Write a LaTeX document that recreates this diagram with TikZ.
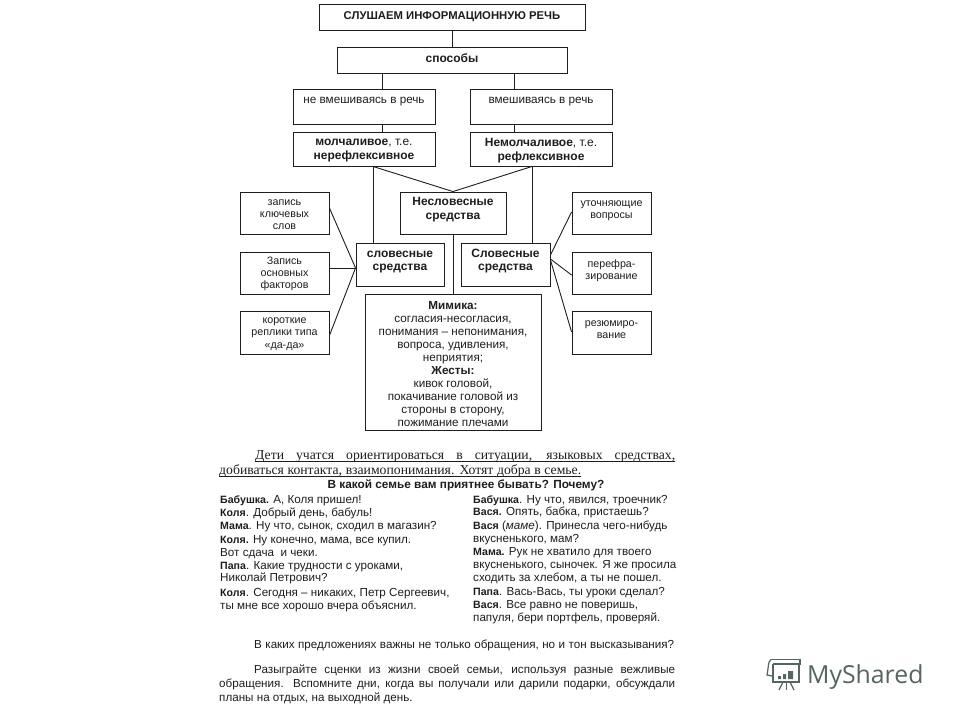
\documentclass[tikz,border=0pt]{standalone}
\usepackage{fontspec}
\setmainfont{Liberation Sans}
\newfontfamily\timesf{Liberation Serif}
\newfontfamily\logof{Open Sans}
\usetikzlibrary{calc}
\tikzset{
  bx/.style={draw=ink,line width=0.9pt,fill=white,inner sep=0pt},
  bxt/.style={inner sep=0pt,align=center,text=ink,font=\fontsize{11.7}{13.1}\selectfont},
  big/.style={font=\fontsize{12}{13.3}\selectfont},
  sm/.style={font=\fontsize{10.7}{12.3}\selectfont},
  link/.style={draw=ink,line width=0.9pt},
  ln/.style={anchor=base west,inner sep=0pt,text=ink,font=\fontsize{11.65}{14}\selectfont},
  ulin/.style={draw=ink,line width=0.7pt},
  pser/.style={ln,font=\timesf\fontsize{13.7}{15}\selectfont},
}
\definecolor{ink}{HTML}{1E1E1E}
\definecolor{logoc}{HTML}{55655F}
% [text style]{x1}{y1}{x2}{y2}{name}{text dy}{text}
\newcommand{\bxn}[8][]{\node[bx,minimum width=#4pt-#2pt,minimum height=#5pt-#3pt] (#6) at ({(#2+#4)/2},{(#3+#5)/2}) {};
  \node[bxt,#1] (#6t) at ($(#6.center)+(0,#7)$) {#8};}
\newcommand{\tl}[4]{\node[ln] (#1) at (#2,#3) {#4};}
\newcommand{\spk}[1]{{\fontsize{10.6}{14}\selectfont\bfseries #1}}
\begin{document}
\begin{tikzpicture}[x=1pt,y=-1pt]
\useasboundingbox (0,0) rectangle (960,720);
\fill[white] (0,0) rectangle (960,720);
% boxes
\bxn[font=\bfseries\fontsize{11.3}{13}\selectfont]{319}{4}{585}{30}{title}{-0.5}{СЛУШАЕМ ИНФОРМАЦИОННУЮ РЕЧЬ}
\bxn[big]{337}{47}{567}{73}{way}{-2}{\textbf{способы}}
\bxn{293}{89}{435}{124}{ne}{-4.5}{не вмешиваясь в речь}
\bxn{470}{89}{612}{124}{vm}{-4.5}{вмешиваясь в речь}
\bxn[big]{293}{132}{435}{166}{mol}{1.5}{\textbf{молчаливое}, т.е.\\\textbf{нерефлексивное}}
\bxn[big]{470}{132}{612}{166}{nem}{1.5}{\textbf{Немолчаливое}, т.е.\\\textbf{рефлексивное}}
\bxn[big]{400}{192}{506}{234}{nes}{-3.3}{\textbf{Несловесные}\\\textbf{средства}}
\bxn[big]{356}{243}{444}{286}{sl}{-2.5}{\textbf{словесные}\\\textbf{средства}}
\bxn[big]{461}{243}{550}{286}{Sl}{-3.5}{\textbf{Словесные}\\\textbf{средства}}
\bxn{365}{294}{541}{430}{mim}{2}{\textbf{Мимика:}\\согласия-несогласия,\\понимания – непонимания,\\вопроса, удивления,\\неприятия;\\\textbf{Жесты:}\\кивок головой,\\покачивание головой из\\стороны в сторону,\\пожимание плечами}
\bxn[sm]{240}{192}{329}{234}{l1}{1.5}{запись\\ключевых\\слов}
\bxn[sm]{240}{252}{329}{294}{l2}{1}{Запись\\основных\\факторов}
\bxn[sm]{240}{311}{329}{354}{l3}{1.5}{короткие\\реплики типа\\«да-да»}
\bxn[sm]{572}{192}{651}{234}{r1}{-2.5}{уточняющие\\вопросы}
\bxn[sm]{572}{252}{651}{294}{r2}{-2.5}{перефра-\\зирование}
\bxn[sm]{572}{311}{651}{354}{r3}{-3}{резюмиро-\\вание}
% connectors
\coordinate (xa) at (382,0);
\coordinate (xb) at (514,0);
\coordinate (xc) at (373,0);
\coordinate (xd) at (532,0);
\draw[link] (title.south) -- (way.north);
\draw[link] (xa |- way.south) -- (xa |- ne.north);
\draw[link] (xb |- way.south) -- (xb |- vm.north);
\draw[link] (xa |- ne.south) -- (xa |- mol.north);
\draw[link] (xb |- vm.south) -- (xb |- nem.north);
\draw[link] (xc |- mol.south) -- (nes.north);
\draw[link] (xd |- nem.south) -- (nes.north);
\draw[link] (xc |- mol.south) -- (xc |- sl.north);
\draw[link] (xd |- nem.south) -- (xd |- Sl.north);
\draw[link] (nes.south) -- (mim.north);
\coordinate (sc) at ($(sl.west)+(0,3.5)$);
\draw[link] ($(l1.east)+(0,-5)$) -- (sc);
\draw[link] (l2.east |- sc) -- (sc);
\draw[link] ($(l3.east)+(0,3)$) -- (sc);
\draw[link] ($(Sl.east)+(0,-9.5)$) -- ($(r1.west)+(0,-1)$);
\draw[link] ($(Sl.east)+(0,-5.5)$) -- ($(r2.west)+(0,2)$);
\draw[link] ($(Sl.east)+(0,-4.5)$) -- ($(r3.west)+(0,-0.5)$);
% serif paragraph
\node[pser] (p1) at (255,459.5) {\makebox[420pt][s]{Дети учатся ориентироваться в ситуации, языковых средствах,}};
\node[pser] (p2) at (219,474.5) {\makebox[362pt][s]{добиваться контакта, взаимопонимания. Хотят добра в семье.}};
\draw[ulin] (p1.base west) ++(0,1.6) -- ++(420,0);
\draw[ulin] (p2.base west) ++(0,1.6) -- ++(362,0);
\node[anchor=base,inner sep=0pt,text=ink,font=\bfseries\fontsize{11.8}{14}\selectfont] (q) at (466,488) {В какой семье вам приятнее бывать? Почему?};
% left column
\tl{a1}{220}{503}{\spk{Бабушка.} А, Коля пришел!}
\tl{a2}{220}{516}{\spk{Коля}. Добрый день, бабуль!}
\tl{a3}{220}{529}{\spk{Мама}. Ну что, сынок, сходил в магазин?}
\tl{a4}{220}{543}{\spk{Коля.} Ну конечно, мама, все купил.}
\tl{a5}{220}{556}{Вот сдача \ и чеки.}
\tl{a6}{220}{569}{\spk{Папа}. Какие трудности с уроками,}
\tl{a7}{220}{581}{Николай Петрович?}
\tl{a8}{220}{596}{\spk{Коля}. Сегодня – никаких, Петр Сергеевич,}
\tl{a9}{220}{609}{ты мне все хорошо вчера объяснил.}
% right column
\tl{b1}{473}{503}{\spk{Бабушка}. Ну что, явился, троечник?}
\tl{b2}{473}{515}{\spk{Вася.} Опять, бабка, пристаешь?}
\tl{b3}{473}{529}{\spk{Вася} (\textit{маме}). Принесла чего-нибудь}
\tl{b4}{473}{542}{вкусненького, мам?}
\tl{b5}{473}{555}{\spk{Мама.} Рук не хватило для твоего}
\tl{b6}{473}{568}{вкусненького, сыночек. Я же просила}
\tl{b7}{473}{581}{сходить за хлебом, а ты не пошел.}
\tl{b8}{473}{595}{\spk{Папа}. Вась-Вась, ты уроки сделал?}
\tl{b9}{473}{608}{\spk{Вася}. Все равно не поверишь,}
\tl{b10}{473}{621}{папуля, бери портфель, проверяй.}
% bottom text
\tl{c1}{254}{648}{\makebox[420pt][s]{В каких предложениях важны не только обращения, но и тон высказывания?}}
\tl{c2}{254}{673}{\makebox[421pt][s]{Разыграйте сценки из жизни своей семьи, используя разные вежливые}}
\tl{c3}{219}{687}{\makebox[456pt][s]{обращения. Вспомните дни, когда вы получали или дарили подарки, обсуждали}}
\tl{c4}{219}{701}{планы на отдых, на выходной день.}
% logo
\begin{scope}[draw=logoc,line width=1.2pt]
\draw (773,664) -- (773,682) -- (799,682) -- (799,664);
\draw (771,659.5) -- (800,659.5) -- (800,664) -- (773,664);
\draw (771,659.5) .. controls (768,660) and (768,672) .. (767,675) -- (772,676);
\draw (783,682) -- (779,690);
\draw (790,682) -- (794,690);
\draw (786.5,682) -- (786.5,690);
\fill[logoc] (778,676) rectangle (781,679) (783,674) rectangle (786,679) (788,671) rectangle (793,679);
\end{scope}
\node[anchor=base west,inner sep=0pt,text=logoc,font=\logof\fontsize{24.8}{30}\selectfont] (logo) at (807,683) {MyShared};
\end{tikzpicture}
\end{document}
